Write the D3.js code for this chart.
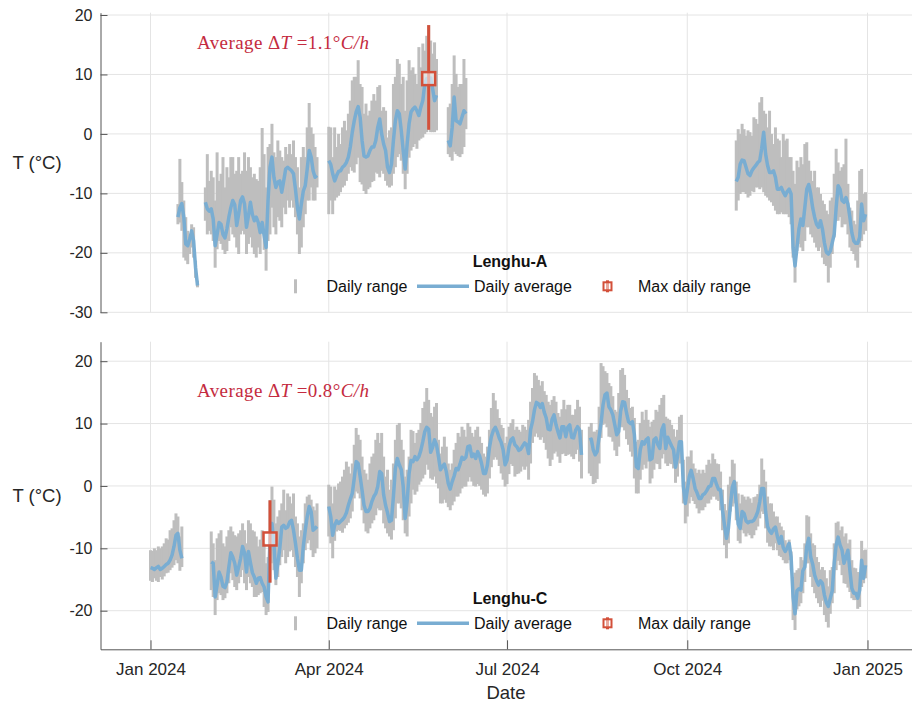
<!DOCTYPE html>
<html>
<head>
<meta charset="utf-8">
<script src="https://cdn.jsdelivr.net/npm/d3@7"></script>
<style>
	body { margin: 0; background: #fff; }
	svg { display: block; font-family: "Liberation Sans", Arial, Helvetica, sans-serif; }
</style>
</head>
<body>
<svg id="chart" width="912" height="707"></svg>
<script>
const STATIONS = ['Lenghu-A', 'Lenghu-C'];
const AVG_DT = [1.1, 0.8];
const LEGEND_LABELS = ['Daily range', 'Daily average', 'Max daily range'];
const X_TICKS = ['2024-01-01', '2024-04-01', '2024-07-01', '2024-10-01', '2025-01-01'];
const Y_TICKS_A = [-30, -20, -10, 0, 10, 20];
const Y_TICKS_C = [-20, -10, 0, 10, 20];

// Lenghu-A : one start date per continuous run of days
const A_START = ['2024-01-15', '2024-01-29', '2024-04-01', '2024-06-01', '2024-10-26'];
const A_AVG = [
	[-14, -12.4, -11.7, -14, -18.5, -18.8, -17.7, -16.3, -18, -22.5, -25.5],
	[-11.5, -12.6, -13.0, -12.6, -14.3, -18.8, -16.9, -14.9, -15.2, -16.9,
	 -17.5, -16.0, -14.0, -12.4, -11.2, -11.9, -15.4, -13.5, -11.2, -10.6,
	 -11.8, -15.7, -13.8, -11.5, -13.5, -14.6, -14.0, -14.9, -16.6, -14.9,
	 -17.1, -19.1, -11.2, -5.6, -3.9, -7.3, -9.0, -8.1, -7.9, -9.8,
	 -7.9, -5.9, -5.6, -5.9, -6.2, -6.7, -9.3, -12.4, -14.3, -11.8,
	 -9.6, -8.7, -5.9, -2.8, -3.9, -6.2, -7.3, -7.0],
	[-4.5, -5.1, -6.7, -7.9, -7.0, -6.3, -6.2, -5.6, -5.3, -4.8,
	 -3.9, -2.2, 0.3, 2.2, 3.7, 4.6, 2.8, -1.1, -3.7, -3.9,
	 -3.7, -2.8, -2.2, -2.2, -1.1, 1.1, 2.5, 0, -1.7, -2.8,
	 -5.6, -6.5, -5.1, -1.1, 2.2, 3.9, 3.4, 0.6, -2.8, -5.9,
	 -1.7, 1.7, 3.7, 4.2, 4.5, 3.9, 3.1, 4.5, 5.6, 8.4,
	 9.3, 9.3, 9.4, 7.6, 5.6, 6.5],
	[-1.1, -2.0, 1.1, 6.2, 2.2, 2.0, 1.7, 2.8, 3.9, 3.4],
	[-8.0, -7.3, -5.1, -4.4, -4.5, -5.6, -6.7, -7.0, -6.2, -5.7,
	 -5.3, -4.8, -4.5, -2.4, 0.3, -3.4, -5.3, -6.5, -6.5, -6.2,
	 -7.3, -9.3, -9.3, -9.0, -9.8, -10.4, -9.7, -9.3, -10.1, -19.1,
	 -22.2, -19.1, -16.0, -14.3, -15.4, -12.4, -9.3, -8.5, -10.1, -12.4,
	 -14.0, -15.2, -15.7, -14.6, -16.0, -18.3, -19.9, -20.2, -19.7, -18.3,
	 -16.9, -12.4, -8.7, -9.3, -11.2, -11.5, -10.7, -11.8, -14.0, -16.6,
	 -18.0, -18.4, -18.4, -17.4, -11.8, -14.6, -13.5]
];
const A_HIGH = [
	[-11.8, -4.2, -8.1, -11.2, -14, -16.3, -16.9, -15.2, -15.7, -21.3, -24.7],
	[-9.0, -3.4, -7.9, -6.2, -7.3, -11.2, -3.1, -7.9, -6.7, -3.9,
	 -9.0, -5.6, -7.3, -3.9, -3.9, -6.7, -6.2, -3.9, -6.7, -6.2,
	 -3.1, -6.2, -3.9, -5.6, -7.3, -6.7, -7.6, -7.9, -5.6, 1.0,
	 -3.4, -9.0, -2.2, -1.7, 1.7, -3.1, -3.9, -1.1, -2.8, -3.9,
	 -4.5, -2.2, -3.4, -1.7, -3.4, -1.1, -3.9, -5.6, -9.0, -3.9,
	 -2.2, -3.9, 1.1, 5.2, 1.1, 0, -2.2, -3.9],
	[1.2, 1.1, -3.9, 1.1, -2.2, 0, -1.7, 1.1, 2.2, 0.6,
	 3.4, 5.6, 9.0, 9.6, 9.6, 12.4, 8.4, 7.9, 3.4, 5.1,
	 3.1, 3.9, 5.6, 6.7, 5.6, 7.9, 8.2, 3.9, 4.5, 3.9,
	 -0.6, 0.6, 1.1, 8.4, 9.6, 12.6, 11.8, 8.4, 9.6, 3.9,
	 9.0, 12.4, 10.7, 11.2, 10.1, 8.4, 14.6, 11.2, 15.2, 14.0,
	 16.5, 18.3, 15.7, 13.5, 15.4, 12.6],
	[4.5, 5.1, 8.4, 13.2, 10.1, 7.9, 8.4, 8.4, 12.6, 9.4],
	[-1.1, 0.8, 0, 1.7, 0.8, -0.3, 0.6, 0.3, -0.3, 2.8,
	 2.5, 1.7, 5.3, 6.2, 3.9, 3.4, 1.1, 3.9, 0, -1.7,
	 1.1, -0.8, -1.1, -3.9, 0, -1.1, -0.8, -3.9, -3.9, -6.2,
	 -8.4, -4.5, -5.6, -3.9, -5.1, -1.7, -1.4, -4.5, -6.2, -7.9,
	 -6.2, -9.0, -9.0, -10.1, -11.2, -11.8, -12.9, -13.5, -11.2, -10.7,
	 -6.7, -2.5, -4.8, -6.2, -5.6, -5.1, -0.8, -8.4, -12.4, -12.9,
	 -14.6, -15.2, -11.2, -6.2, -5.9, -10.1, -9.8]
];
const A_LOW = [
	[-15.2, -14.9, -16.3, -20.8, -21.3, -21.9, -20.2, -19.1, -20.8, -24.2, -25.8],
	[-14.6, -16.9, -16.3, -16.9, -18.0, -22.5, -19.4, -18.0, -18.5, -19.5,
	 -20.2, -19.7, -18.0, -15.7, -16.9, -17.4, -19.1, -20.2, -16.9, -16.3,
	 -16.9, -20.2, -18.5, -17.4, -19.1, -20.2, -20.8, -19.1, -20.2, -15.5,
	 -19.5, -23.0, -18.0, -16.9, -12.4, -15.7, -16.9, -14.0, -14.6, -15.7,
	 -12.4, -13.5, -11.2, -12.4, -11.2, -12.4, -14.0, -16.9, -20.2, -19.1,
	 -15.7, -13.5, -11.2, -11.2, -9.0, -11.2, -11.2, -9.0],
	[-13.5, -11.2, -13.5, -11.2, -10.7, -10.4, -9.8, -9.0, -8.7, -7.9,
	 -6.7, -5.6, -6.2, -6.5, -5.1, -4.0, -8.1, -8.5, -9.6, -10.1,
	 -9.3, -9.0, -8.1, -7.9, -6.5, -6.7, -7.3, -6.2, -6.7, -7.9,
	 -8.7, -9.0, -8.7, -6.7, -5.6, -3.9, -3.4, -4.5, -6.7, -9.3,
	 -6.7, -4.0, -2.8, -2.2, -1.7, -2.5, -1.1, -0.8, -0.6, 0,
	 0.3, 0.7, 0.3, 0.3, 0.3, 0.6],
	[-3.4, -3.9, -4.5, -3.0, -3.4, -3.7, -3.9, -3.4, -2.2, 0.8],
	[-12.9, -11.2, -10.1, -9.8, -9.8, -10.1, -10.7, -10.4, -9.6, -9.8,
	 -9.0, -9.0, -9.3, -9.0, -9.8, -10.4, -10.7, -11.2, -11.5, -12.1,
	 -12.9, -13.5, -13.5, -13.2, -13.5, -13.5, -13.5, -14.0, -15.2, -20.8,
	 -25.0, -19.7, -18.5, -19.1, -19.7, -18.0, -15.7, -15.7, -16.9, -17.4,
	 -18.3, -19.1, -19.7, -19.1, -20.8, -21.9, -22.2, -25.0, -22.5, -20.2,
	 -17.4, -14.6, -14.6, -14.0, -15.7, -15.2, -15.2, -16.9, -19.1, -19.7,
	 -20.2, -21.3, -22.5, -19.1, -18.0, -16.9, -16.3]
];
// date, low, high, marker value
const A_PEAK = ['2024-05-22', 0.7, 18.3, 9.3];

// Lenghu-C
const C_START = ['2024-01-01', '2024-02-01', '2024-04-01', '2024-08-12'];
const C_AVG = [
	[-13.1, -13.2, -13.4, -13.1, -12.9, -13.4, -13.2, -12.9, -12.6, -12.4, -11.9, -11.1, -9.7, -7.9, -7.6, -10.3, -11.6],
	[-12.2, -12.4, -17.8, -15.9, -13.8, -14.6, -16.1, -16.3, -15.4, -13.0,
	 -10.7, -11.4, -12.4, -14.3, -13.0, -11.6, -9.7, -10.7, -13.8, -10.5,
	 -12.3, -13.9, -14.6, -15.6, -14.8, -14.7, -15.6, -16.2, -17.8, -18.6,
	 -8.5, -6.0, -9.2, -14.8, -12.4, -10.0, -6.6, -6.3, -6.8, -6.6,
	 -5.8, -5.5, -7.1, -9.2, -11.6, -13.5, -13.5, -9.7, -7.1, -4.9,
	 -3.3, -4.1, -7.1, -6.8, -6.5],
	[-3.3, -4.9, -7.9, -6.3, -5.6, -6.0, -5.7, -5.4, -5.0, -4.3,
	 -3.1, -2.1, -1.2, 1.2, 3.9, 3.6, 1.5, -0.7, -3.1, -4.1,
	 -4.1, -3.6, -2.5, -1.7, -1.2, -0.1, 2.3, 2.0, -1.4, -3.1,
	 -4.3, -5.7, -5.5, -1.7, 2.8, 4.4, 3.4, 2.6, -0.1, -5.2,
	 -2.5, 2.0, 4.1, 3.9, 4.7, 4.2, 4.7, 5.7, 7.1, 8.7,
	 9.4, 9.1, 5.4, 6.2, 7.4, 6.6, 4.7, 2.6, 3.1, 3.5,
	 2.3, 0.4, -0.5, 0.7, 1.6, 2.8, 2.6, 3.5, 4.6, 4.3,
	 4.6, 6.3, 6.4, 4.7, 5.1, 4.4, 5.5, 4.8, 3.6, 2.0,
	 2.0, 3.4, 6.1, 7.9, 8.9, 9.4, 8.7, 7.7, 7.0, 5.8,
	 3.4, 4.1, 6.3, 7.4, 7.7, 6.6, 6.3, 5.7, 5.9, 6.4,
	 6.9, 6.6, 5.2, 9.0, 10.3, 12.2, 13.4, 13.2, 12.6, 13.2,
	 11.8, 10.9, 9.1, 9.0, 10.7, 11.4, 9.8, 8.7, 7.7, 9.5,
	 9.5, 7.9, 9.4, 9.8, 7.8, 7.7, 8.9, 9.5, 9.0, 5.0],
	[7.4, 7.5, 5.8, 5.0, 5.5, 7.9, 10.1, 13.0, 14.6, 14.9,
	 12.7, 12.2, 11.4, 9.8, 8.2, 8.7, 12.0, 13.5, 13.4, 11.7,
	 10.3, 10.0, 10.3, 8.2, 3.1, 2.8, 5.8, 7.1, 6.7, 7.4,
	 7.7, 4.2, 4.4, 7.4, 7.7, 6.6, 6.0, 9.0, 9.8, 6.0,
	 7.8, 7.1, 6.4, 5.8, 3.0, 4.7, 7.1, 7.1, -0.1, -2.8,
	 -0.7, 1.5, 2.5, 1.2, -0.4, -1.1, -2.0, -2.0, -1.4, -1.2,
	 -0.7, -0.1, 0, 1.2, 1.2, 0.2, -0.6, -0.6, -3.9, -6.3,
	 -8.4, -6.8, -3.1, -0.2, 0.7, -2.8, -6.1, -6.8, -4.1, -4.4,
	 -5.6, -5.9, -5.7, -5.7, -5.5, -4.9, -4.1, -2.5, -0.4, -0.4,
	 -4.1, -6.5, -7.2, -7.6, -6.9, -6.6, -8.1, -9.2, -8.1, -9.9,
	 -10.5, -9.9, -9.2, -11.4, -17.8, -20.5, -16.8, -16.5, -16.7, -13.6,
	 -13.0, -9.7, -8.4, -11.4, -12.5, -14.3, -15.2, -15.9, -15.2, -15.6,
	 -17.5, -18.7, -19.3, -18.0, -16.8, -12.4, -9.5, -8.2, -9.5, -10.3,
	 -12.4, -11.4, -10.3, -13.5, -16.4, -17.2, -17.2, -18.0, -16.7, -11.9,
	 -14.8, -12.7]
];
const C_HIGH = [
	[-10.3, -10.4, -10.0, -10.3, -9.7, -10.0, -9.7, -9.2, -8.4, -8.6, -7.1, -6.8, -5.5, -4.4, -4.9, -8.1, -6.5],
	[-7.3, -9.2, -11.9, -8.4, -7.6, -7.1, -9.2, -9.7, -8.1, -7.1,
	 -6.5, -7.3, -7.9, -8.1, -7.6, -7.1, -6.0, -7.1, -9.2, -5.5,
	 -6.0, -7.1, -7.3, -8.1, -9.7, -8.6, -7.1, -9.2, -12.4, -11.4,
	 -2.3, -0.1, -2.2, -6.0, -4.9, -3.9, -2.8, -0.6, -3.9, -1.2,
	 -1.7, -2.8, -1.2, -4.9, -6.0, -8.1, -7.1, -6.0, -2.8, -1.7,
	 -1.4, -2.2, -3.3, -3.9, -2.8],
	[0.2, -0.1, -2.8, -0.1, -0.6, 0.4, 0.7, 1.5, 2.6, 3.9,
	 3.1, 2.0, 3.6, 6.6, 9.3, 8.2, 7.4, 4.7, 2.6, 2.0,
	 1.0, 3.6, 4.7, 5.2, 7.4, 8.5, 6.9, 8.5, 4.7, 1.5,
	 2.6, -0.6, 1.0, 3.6, 7.4, 9.8, 10.1, 7.4, 5.8, 1.5,
	 2.6, 4.7, 9.0, 8.8, 6.9, 8.5, 9.0, 10.1, 12.5, 13.5,
	 15.7, 13.8, 11.7, 11.1, 12.7, 13.3, 7.4, 5.2, 6.3, 7.9,
	 6.3, 3.6, 2.6, 3.6, 5.8, 6.9, 8.5, 7.9, 9.5, 9.0,
	 7.9, 10.1, 9.5, 8.5, 7.9, 9.0, 9.5, 7.9, 6.9, 5.2,
	 4.7, 6.3, 9.0, 12.5, 14.9, 13.7, 12.3, 10.9, 9.8, 9.3,
	 6.9, 7.9, 9.5, 10.1, 10.7, 9.0, 9.5, 9.0, 8.7, 9.8,
	 9.5, 9.0, 10.6, 13.5, 15.7, 18.1, 17.7, 17.0, 16.1, 16.8,
	 15.2, 14.6, 13.5, 13.0, 13.8, 14.4, 13.5, 11.7, 11.1, 12.3,
	 13.8, 12.3, 13.0, 13.0, 11.4, 11.4, 12.3, 13.8, 12.7, 9.0],
	[9.5, 10.1, 8.7, 8.7, 9.0, 12.7, 19.7, 19.2, 18.4, 18.1,
	 16.5, 16.0, 14.4, 12.2, 11.9, 14.9, 18.6, 18.9, 17.8, 15.4,
	 14.1, 12.5, 12.7, 10.9, 7.1, 7.4, 10.1, 11.9, 10.6, 12.2,
	 10.6, 9.5, 10.3, 10.6, 12.2, 11.9, 13.0, 14.1, 14.6, 11.1,
	 10.8, 10.6, 9.8, 9.1, 7.9, 9.0, 11.1, 11.4, 4.2, 0.7,
	 4.7, 4.7, 5.7, 3.6, 2.8, 2.1, 2.6, 2.0, 2.6, 2.1,
	 3.4, 4.2, 3.6, 5.2, 4.3, 3.6, 3.5, 2.3, -0.6, -2.9,
	 -3.9, 0.2, 1.5, 4.2, 3.6, 0.7, -1.2, -2.8, -1.4, -1.7,
	 -2.2, -1.7, -2.0, -2.7, -1.8, -1.7, -1.3, 0.2, 4.4, 2.6,
	 0.7, -1.7, -2.8, -2.8, -4.1, -4.9, -4.9, -5.9, -6.5, -7.1,
	 -8.7, -9.2, -8.6, -10.5, -14.6, -13.9, -13.5, -13.2, -11.4, -11.9,
	 -9.2, -4.7, -4.9, -7.6, -9.2, -9.5, -11.4, -12.2, -13.4, -13.0,
	 -13.5, -14.8, -16.1, -13.5, -13.0, -9.2, -5.9, -5.7, -7.1, -6.5,
	 -8.1, -7.6, -9.2, -8.6, -11.9, -13.1, -13.2, -13.8, -14.6, -8.8,
	 -10.3, -10.2]
];
const C_LOW = [
	[-15.2, -15.4, -14.8, -15.2, -15.4, -14.6, -15.0, -14.5, -14.0, -13.9, -13.5, -13.1, -12.7, -11.9, -12.4, -13.6, -13.0],
	[-16.7, -17.8, -20.7, -18.3, -17.2, -17.5, -18.3, -18.0, -17.2, -15.6,
	 -14.0, -15.1, -16.2, -16.7, -15.6, -14.6, -13.5, -15.6, -16.7, -14.6,
	 -15.6, -16.2, -17.8, -17.8, -17.5, -17.2, -17.0, -19.4, -20.7, -20.2,
	 -15.5, -12.4, -13.5, -15.9, -14.6, -12.7, -11.4, -10.3, -12.4, -11.4,
	 -10.5, -10.3, -11.4, -13.0, -14.6, -17.8, -15.6, -12.4, -10.3, -9.2,
	 -8.7, -10.3, -11.4, -10.8, -10.0],
	[-8.1, -9.2, -11.6, -8.8, -7.3, -7.1, -7.2, -7.5, -6.8, -6.3,
	 -5.9, -5.2, -4.1, -2.0, -0.9, -1.2, -2.0, -3.9, -6.0, -7.3,
	 -7.6, -6.8, -6.0, -5.5, -4.7, -3.6, -3.9, -3.9, -6.0, -6.8,
	 -7.6, -8.1, -8.6, -7.1, -5.2, -2.8, -2.8, -3.6, -5.5, -7.6,
	 -8.1, -4.9, -2.8, -0.6, -1.4, -0.9, 0.2, 0.7, 1.2, 1.8,
	 3.4, 2.6, 1.2, 1.0, 1.5, 0.4, -0.4, -2.8, -2.8, -2.2,
	 -2.7, -3.4, -3.9, -3.1, -2.5, -1.7, -1.7, -1.2, -0.4, -0.1,
	 -0.1, 0.7, 1.4, 0.7, 0, -0.1, 0.3, 0, -0.6, -1.4,
	 -1.7, -1.2, 1.2, 3.0, 4.2, 4.6, 4.2, 3.2, 2.0, 1.0,
	 -0.1, 0.3, 1.9, 3.5, 3.2, 1.5, 1.9, 2.0, 2.3, 3.1,
	 2.6, 3.1, 1.0, 3.6, 6.9, 7.9, 8.4, 7.8, 7.4, 7.8,
	 6.9, 5.8, 4.4, 3.2, 4.2, 5.2, 5.5, 4.7, 3.7, 5.1,
	 5.2, 4.8, 5.0, 5.1, 4.7, 4.3, 5.1, 5.8, 3.9, 1.2],
	[2.0, 1.6, 0.3, 0.5, 1.1, 3.6, 7.7, 9.8, 10.0, 9.4,
	 7.9, 7.8, 7.1, 5.7, 4.8, 6.3, 9.5, 9.4, 8.9, 7.5,
	 6.6, 5.5, 4.7, 1.2, -1.2, -1.2, 1.0, 2.6, 3.4, 2.8,
	 3.9, 0.4, 1.2, 2.6, 3.6, 3.5, 2.7, 4.4, 5.1, 3.6,
	 3.2, 3.6, 3.5, 2.8, 0.5, 1.5, 3.6, 4.4, -2.8, -6.0,
	 -4.9, -2.8, -1.8, -2.4, -2.9, -3.6, -4.4, -3.9, -3.9, -3.4,
	 -2.8, -2.8, -2.2, -1.7, -1.7, -2.2, -2.4, -3.9, -7.1, -9.5,
	 -11.6, -9.2, -4.1, -3.3, -2.8, -5.5, -8.8, -9.2, -7.1, -7.6,
	 -8.1, -7.6, -7.9, -8.4, -7.9, -7.1, -6.5, -5.2, -4.1, -4.5,
	 -6.8, -9.1, -9.7, -9.7, -10.3, -9.2, -10.3, -11.2, -11.4, -11.9,
	 -12.4, -12.4, -11.9, -13.5, -21.5, -23.1, -19.8, -19.3, -18.8, -17.2,
	 -15.4, -12.4, -12.4, -14.6, -16.2, -17.2, -18.0, -18.8, -19.4, -18.4,
	 -20.7, -21.8, -22.7, -20.5, -18.8, -17.2, -13.5, -12.0, -12.7, -14.3,
	 -15.6, -15.7, -16.3, -17.0, -18.0, -18.3, -18.3, -19.7, -19.4, -16.2,
	 -15.6, -14.8]
];
const C_PEAK = ['2024-03-02', -15.5, -2.3, -8.5];

const parseDate = d3.utcParse('%Y-%m-%d');
const X_LEFT = 100.5, X_RIGHT = 912;
const GREY = '#bebebe', BLUE = '#79add2', RED = '#d3503a', NOTE_RED = '#c42b40';

// Jan 2024 sits at 150.5 px and Jan 2025 at 867.5 px; widen to the full axis
const x0 = d3.scaleUtc().domain([parseDate(X_TICKS[0]), parseDate(X_TICKS[4])]).range([150.5, 867.5]);
const x = d3.scaleUtc().domain([x0.invert(X_LEFT), x0.invert(X_RIGHT)]).range([X_LEFT, X_RIGHT]);

function buildSegments(starts, avg, low, high) {
	return starts.map((s, k) => {
		const t0 = parseDate(s);
		return avg[k].map((v, i) => ({
			date: d3.utcDay.offset(t0, i), avg: v, low: low[k][i], high: high[k][i]
		}));
	});
}

const svg = d3.select('#chart');

function drawPanel(p) {
	const yk = d3.scaleLinear().domain(p.yKnown).range(p.yKnownPx);
	const y = d3.scaleLinear().domain([yk.invert(p.bottom), yk.invert(p.top)]).range([p.bottom, p.top]);
	const g = svg.append('g');

	// grid
	g.append('g').selectAll('line').data(p.yTicks).join('line')
		.attr('x1', X_LEFT).attr('x2', X_RIGHT)
		.attr('y1', d => y(d)).attr('y2', d => y(d))
		.attr('stroke', '#e4e4e4').attr('stroke-width', 1);
	g.append('g').selectAll('line').data(X_TICKS).join('line')
		.attr('x1', d => x(parseDate(d))).attr('x2', d => x(parseDate(d)))
		.attr('y1', p.top).attr('y2', p.bottom)
		.attr('stroke', '#e4e4e4').attr('stroke-width', 1);

	// daily range bars
	p.segments.forEach(seg => {
		g.append('g').selectAll('line').data(seg).join('line')
			.attr('x1', d => x(d.date)).attr('x2', d => x(d.date))
			.attr('y1', d => y(d.low)).attr('y2', d => y(d.high))
			.attr('stroke', GREY).attr('stroke-width', 3);
	});

	// daily average
	const line = d3.line().x(d => x(d.date)).y(d => y(d.avg));
	g.append('g').selectAll('path').data(p.segments).join('path')
		.attr('d', line)
		.attr('fill', 'none').attr('stroke', BLUE)
		.attr('stroke-width', 3.5).attr('stroke-linejoin', 'round');

	// max daily range
	const px = x(parseDate(p.peak[0]));
	g.append('line')
		.attr('x1', px).attr('x2', px)
		.attr('y1', y(p.peak[1])).attr('y2', y(p.peak[2]))
		.attr('stroke', RED).attr('stroke-width', 3);
	g.append('rect')
		.attr('x', px - 6.5).attr('y', y(p.peak[3]) - 6.5)
		.attr('width', 13).attr('height', 13)
		.attr('fill', 'rgba(255,255,255,0.55)').attr('stroke', RED).attr('stroke-width', 2.5);

	// y axis
	const axis = d3.axisLeft(y).tickValues(p.yTicks)
		.tickSizeInner(-7).tickSizeOuter(0).tickPadding(8).tickFormat(d => String(d));
	const ga = g.append('g').attr('transform', `translate(${X_LEFT},0)`).call(axis)
		.attr('font-family', null).attr('font-size', 16);
	ga.select('.domain').attr('stroke', '#555');
	ga.selectAll('.tick line').attr('stroke', '#555');
	ga.selectAll('.tick text').attr('fill', '#262626');

	g.append('text')
		.attr('x', 37).attr('y', (p.top + p.bottom) / 2 + 6)
		.attr('text-anchor', 'middle').attr('font-size', 18.5).attr('fill', '#262626')
		.text('T (°C)');

	// annotation
	const note = g.append('text')
		.attr('x', 197).attr('y', p.noteY)
		.attr('font-family', '"Liberation Serif", "DejaVu Serif", serif')
		.attr('font-size', 19).attr('fill', NOTE_RED)
		.attr('textLength', 172).attr('lengthAdjust', 'spacing');
	note.append('tspan').text('Average ');
	note.append('tspan').text('Δ');
	note.append('tspan').attr('font-style', 'italic').text('T');
	note.append('tspan').text(' =' + p.dt.toFixed(1) + '°');
	note.append('tspan').attr('font-style', 'italic').text('C/h');

	// legend
	const lg = g.append('g').attr('font-size', 16).attr('fill', '#111');
	const ly = p.bottom - 26;
	lg.append('text')
		.attr('x', 510).attr('y', p.bottom - 45.5)
		.attr('text-anchor', 'middle').attr('font-weight', 'bold')
		.text(p.name);
	lg.append('line')
		.attr('x1', 295.5).attr('x2', 295.5).attr('y1', ly - 7).attr('y2', ly + 7)
		.attr('stroke', GREY).attr('stroke-width', 3);
	lg.append('line')
		.attr('x1', 417).attr('x2', 469).attr('y1', ly).attr('y2', ly)
		.attr('stroke', BLUE).attr('stroke-width', 3.5);
	lg.append('line')
		.attr('x1', 607.5).attr('x2', 607.5).attr('y1', ly - 6).attr('y2', ly + 6)
		.attr('stroke', RED).attr('stroke-width', 3);
	lg.append('rect')
		.attr('x', 603.5).attr('y', ly - 4).attr('width', 8).attr('height', 8)
		.attr('fill', 'rgba(255,255,255,0.5)').attr('stroke', RED).attr('stroke-width', 2);
	lg.selectAll('text.item').data(LEGEND_LABELS).join('text')
		.attr('class', 'item')
		.attr('x', (d, i) => [326.5, 474, 638][i])
		.attr('y', p.bottom - 20.3)
		.text(d => d);
}

drawPanel({
	name: STATIONS[0], dt: AVG_DT[0],
	segments: buildSegments(A_START, A_AVG, A_LOW, A_HIGH), peak: A_PEAK,
	yTicks: Y_TICKS_A, yKnown: [-30, 20], yKnownPx: [312.3, 15],
	top: 12.7, bottom: 312.3, noteY: 49.3
});
drawPanel({
	name: STATIONS[1], dt: AVG_DT[1],
	segments: buildSegments(C_START, C_AVG, C_LOW, C_HIGH), peak: C_PEAK,
	yTicks: Y_TICKS_C, yKnown: [-20, 20], yKnownPx: [610.7, 361.2],
	top: 341.7, bottom: 649.3, noteY: 396.7
});

// shared date axis under the lower panel
const xAxis = d3.axisBottom(x)
	.tickValues(X_TICKS.map(parseDate))
	.tickFormat(d3.utcFormat('%b %Y'))
	.tickSizeInner(-9).tickSizeOuter(0).tickPadding(13.5);
const gx = svg.append('g').attr('transform', 'translate(0,649.3)').call(xAxis)
	.attr('font-family', null).attr('font-size', 17);
gx.select('.domain').attr('stroke', '#555');
gx.selectAll('.tick line').attr('stroke', '#555');
gx.selectAll('.tick text').attr('fill', '#262626');

svg.append('text')
	.attr('x', 506).attr('y', 699)
	.attr('text-anchor', 'middle').attr('font-size', 18.5).attr('fill', '#262626')
	.text('Date');
</script>
</body>
</html>
